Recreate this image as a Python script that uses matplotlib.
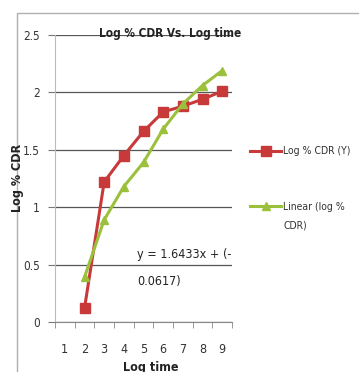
import matplotlib
matplotlib.use("Agg")
import matplotlib.pyplot as plt
from matplotlib.patches import Rectangle
from matplotlib.ticker import FixedLocator, FuncFormatter
from matplotlib.legend_handler import HandlerLine2D

categories = [1, 2, 3, 4, 5, 6, 7, 8, 9]
x_vals = [2, 3, 4, 5, 6, 7, 8, 9]
log_cdr = [0.12, 1.22, 1.45, 1.66, 1.83, 1.88, 1.94, 2.01]
linear_cdr = [0.39, 0.89, 1.18, 1.39, 1.68, 1.90, 2.06, 2.19]
y_ticks = [0, 0.5, 1, 1.5, 2, 2.5]

plt.rcParams['font.family'] = ['DejaVu Sans']
plt.rcParams['font.stretch'] = 'condensed'

W, H = 359, 372
fig = plt.figure(figsize=(W / 100, H / 100), dpi=100)
fig.patch.set_facecolor('white')

# outer chart-area frame
fig.add_artist(Rectangle((17 / W, -0.05), 1.2, 1 - 13 / H + 0.05,
                         transform=fig.transFigure, fill=False,
                         edgecolor='#b0b0b0', linewidth=1.0))

ax = fig.add_axes([55 / W, 1 - 322 / H, (232 - 55) / W, (322 - 35) / H])
ax.set_xlim(0.5, 9.5)
ax.set_ylim(0, 2.5)

red = '#c8393a'
green = '#9bc13c'
l1, = ax.plot(x_vals, log_cdr, color=red, marker='s', markersize=7, linewidth=2.2,
              label='Log % CDR (Y)', zorder=3)
l2, = ax.plot(x_vals, linear_cdr, color=green, marker='^', markersize=6, linewidth=2.2,
              label='Linear (log %\nCDR)', zorder=4)

ax.set_yticks(y_ticks)
ax.yaxis.set_major_formatter(FuncFormatter(lambda v, p: f"{v:g}"))
ax.grid(axis='y', color='#555555', linewidth=0.9)
ax.set_axisbelow(True)
ax.set_xticks(categories)
ax.set_xticklabels([str(c) for c in categories])
ax.xaxis.set_minor_locator(FixedLocator([c + 0.5 for c in [0] + categories]))
ax.tick_params(axis='x', which='major', length=0, pad=15, labelsize=9, colors='#333333')
ax.tick_params(axis='x', which='minor', length=4, color='#888888', direction='out')
ax.tick_params(axis='y', which='major', length=5, color='#777777', pad=6,
               labelsize=8.5, labelcolor='#333333')

for s in ['top', 'right']:
    ax.spines[s].set_visible(False)
ax.spines['left'].set_color('#bbbbbb')
ax.spines['bottom'].set_color('#888888')

fig.text(170 / W, 1 - 33 / H, 'Log % CDR Vs. Log time', ha='center', va='center',
         fontsize=8.5, fontweight='bold', color='#222222')
fig.text(17 / W, 1 - 178 / H, 'Log % CDR', rotation=90, ha='center', va='center',
         fontsize=9, fontweight='bold', color='#222222')
fig.text(151 / W, 1 - 367 / H, 'Log time', ha='center', va='center',
         fontsize=9, fontweight='bold', color='#222222')

ax.text(0.463, 0.258, 'y = 1.6433x + (-\n0.0617)', transform=ax.transAxes,
        ha='left', va='top', fontsize=9, linespacing=2.45, color='#222222')


class RaisedHandler(HandlerLine2D):
    def __init__(self, shift, **kw):
        super().__init__(**kw)
        self.shift = shift

    def create_artists(self, legend, orig_handle, xdescent, ydescent, width,
                       height, fontsize, trans):
        return super().create_artists(legend, orig_handle, xdescent,
                                      ydescent - self.shift, width, height,
                                      fontsize, trans)


leg = fig.legend(handles=[l1, l2], loc='upper left',
                 bbox_to_anchor=(245 / W, 1 - 141 / H),
                 frameon=False, fontsize=7.5, handlelength=3.0, labelspacing=4.4,
                 handletextpad=0.15, borderpad=0, labelcolor='#333333',
                 handler_map={l2: RaisedHandler(15)})
leg.get_texts()[1].set_linespacing(2.1)

fig.savefig('out.png', dpi=100, facecolor='white')
